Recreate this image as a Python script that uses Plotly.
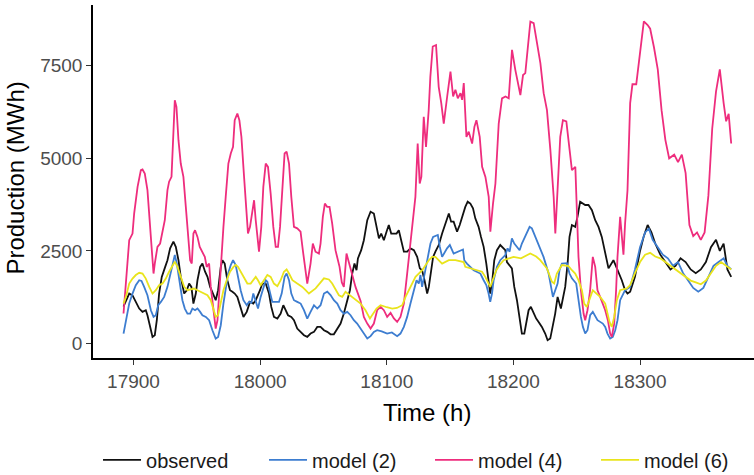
import plotly.graph_objects as go

# ---------------- data ----------------
obs_h = [17892.1, 17896.6, 17899.2, 17901.8, 17904.5, 17907.1, 17909.7, 17911, 17913.1, 17915, 17916.8, 17918.4,
         17920.2, 17922.3, 17925, 17926.8, 17928.9, 17931.5, 17933.4, 17935.5, 17937.3, 17940, 17942.1, 17943.9,
         17945.7, 17947.3, 17949.2, 17950.5, 17952.6, 17954.4, 17956.5, 17958.4, 17960.5, 17962.8, 17964.9, 17966.8,
         17968.9, 17970.2, 17972, 17974.1, 17976.2, 17978.1, 17979.9, 17982, 17984.1, 17986.8, 17989.4, 17992,
         17994.6, 17996.5, 17999.9, 18001.7, 18004.4, 18007, 18008.8, 18010.9, 18013.6, 18016.2, 18018.3, 18020.1,
         18022, 18024.6, 18026.7, 18029.3, 18032, 18034.6, 18037.2, 18039.8, 18042.5, 18045.1, 18047.7, 18050.4,
         18053, 18055.6, 18058.2, 18060.4, 18063.5, 18066.1, 18068.8, 18070.9, 18072.7, 18074.5, 18076.1, 18077.2,
         18079.8, 18081.9, 18084.6, 18087.2, 18089.8, 18091.9, 18093.8, 18095.6, 18097.7, 18099.8, 18101.6, 18103.5,
         18107.7, 18109.5, 18111.4, 18113.5, 18116.1, 18118.7, 18121.4, 18124, 18126.1, 18127.9, 18129.8, 18131.9,
         18133.2, 18134.5, 18136.6, 18138.4, 18141.1, 18143.7, 18146.3, 18149, 18150.8, 18152.8, 18155.5, 18157.6,
         18162, 18163.9, 18166, 18168.1, 18169.9, 18172.5, 18174.4, 18176.5, 18178.6, 18180.4, 18181.7, 18183.1,
         18184.9, 18187, 18189.6, 18193.6, 18194.9, 18198.8, 18200.7, 18202.8, 18204.9, 18206.7, 18208.6, 18210.1,
         18212, 18213.8, 18215.9, 18218, 18219.9, 18222.5, 18225.1, 18227, 18229.1, 18231.2, 18233, 18234.9,
         18237.5, 18240.9, 18242.8, 18244.3, 18246.2, 18248.8, 18250.6, 18252.7, 18256.7, 18259.3, 18262, 18264.6,
         18267.2, 18269.8, 18272.5, 18275.1, 18279, 18283, 18285.6, 18288.2, 18290.1, 18292.2, 18296, 18300,
         18303, 18306, 18309, 18312, 18316, 18320, 18324, 18328, 18332, 18336, 18340, 18344,
         18348, 18352, 18356, 18360, 18363, 18366, 18369, 18372]
obs_v = [1000, 1350, 1300, 1125, 945, 855, 900, 765, 405, 180, 225, 630,
         1350, 1800, 2070, 2250, 2570, 2750, 2610, 2250, 1800, 1350, 1440, 1620,
         1530, 1080, 1350, 1710, 2070, 2160, 1940, 1800, 1530, 1350, 1170, 1440,
         2070, 2250, 2160, 1710, 1440, 1400, 1350, 1260, 990, 720, 855, 1125,
         1080, 1170, 1440, 1620, 1620, 1350, 990, 720, 675, 810, 1035, 900,
         765, 720, 630, 405, 315, 225, 180, 270, 315, 450, 450, 360,
         315, 250, 250, 360, 540, 810, 1170, 1440, 1890, 2160, 1980, 2300,
         2520, 2790, 3330, 3560, 3510, 3150, 2840, 2970, 2790, 3020, 3200, 2970,
         2970, 3060, 2790, 2480, 2480, 2570, 2520, 2340, 2030, 1980, 1710, 1350,
         1530, 1890, 2340, 2480, 2660, 2970, 3240, 3510, 3290, 3290, 3020, 3200,
         3690, 3830, 3780, 3650, 3380, 3150, 2880, 2610, 2160, 1710, 1350, 1620,
         2250, 2520, 2660, 2520, 2200, 2030, 1530, 1170, 720, 270, 270, 540,
         900, 990, 810, 675, 585, 450, 270, 90, 135, 450, 810, 1260,
         945, 1530, 2160, 2880, 3200, 3150, 3420, 3830, 3740, 3740, 3600, 3330,
         3150, 2880, 2430, 2030, 2250, 1940, 1710, 1440, 1350, 1400, 1800, 2500,
         2900, 3200, 3000, 2700, 2400, 2200, 2000, 2100, 2300, 2200, 2000, 1900,
         2000, 2200, 2600, 2800, 2500, 2700, 2000, 1800]

m2_h = [17892.1, 17894, 17896.6, 17899.2, 17901.8, 17904.5, 17906.3, 17908.4, 17911, 17913.7, 17915.8, 17917.6,
        17919.5, 17921.6, 17924.2, 17926.8, 17929.4, 17931.5, 17932.6, 17934.2, 17936, 17938.6, 17940.5, 17942.6,
        17944.7, 17946.5, 17948.6, 17950.5, 17952.6, 17954.4, 17957.1, 17959.7, 17962.3, 17964.9, 17966.8, 17968.9,
        17971, 17972.8, 17974.7, 17976.8, 17978.6, 17980.7, 17982.5, 17984.6, 17986.8, 17989.4, 17991.2, 17993.1,
        17994.6, 17996.5, 17998.3, 18000.4, 18002.5, 18004.4, 18005.7, 18007.8, 18009.6, 18012.3, 18014.9, 18017,
        18019.3, 18020.9, 18022.8, 18024.6, 18026.7, 18029.3, 18032, 18034.6, 18037.2, 18039.8, 18042.5, 18045.1,
        18047.7, 18050.4, 18053, 18055.6, 18058.2, 18060.9, 18063.5, 18066.1, 18068.8, 18071.4, 18074, 18076.6,
        18079.3, 18081.9, 18084.6, 18087.2, 18089.8, 18092.4, 18096, 18100.3, 18104, 18108.2, 18110.8, 18113.5,
        18116.1, 18118.7, 18121.4, 18123.5, 18125.3, 18126.6, 18127.9, 18130.6, 18131.9, 18133.2, 18134.5, 18136.6,
        18140.3, 18141.9, 18143.7, 18147.6, 18149.8, 18152.8, 18156, 18160.2, 18161.2, 18163.3, 18168.6, 18173.9,
        18176.5, 18178.6, 18180.4, 18181.7, 18183.1, 18184.4, 18187, 18189.6, 18193.6, 18195.4, 18197, 18198.8,
        18200.7, 18202.8, 18204.9, 18206.7, 18210.7, 18212.8, 18214.6, 18217.2, 18219.1, 18221.2, 18223.8, 18227.8,
        18229.6, 18231.2, 18234.9, 18236.4, 18238.3, 18242.2, 18244.3, 18246.2, 18249.6, 18251.4, 18253.3, 18254.9,
        18256.7, 18258.5, 18260.6, 18262.7, 18266.4, 18270.6, 18272.5, 18274.3, 18276.4, 18278.5, 18280.4, 18282.2,
        18284.3, 18288.2, 18292.2, 18296, 18300, 18304, 18307, 18310, 18314, 18318, 18322, 18326,
        18330, 18334, 18338, 18342, 18346, 18350, 18354, 18358, 18362, 18366, 18369, 18372]
m2_v = [270, 630, 1080, 1350, 1575, 1710, 1690, 1530, 1305, 900, 720, 765,
        1035, 1125, 1260, 1530, 1940, 2250, 2390, 2160, 1710, 1170, 945, 810,
        810, 945, 900, 945, 855, 765, 720, 630, 360, 135, 180, 495,
        1080, 1530, 1890, 2120, 2250, 2120, 1800, 1440, 1170, 1035, 1125, 1100,
        1350, 1125, 945, 1260, 1530, 1710, 1670, 1350, 1125, 1125, 1125, 1350,
        1800, 1890, 1710, 1350, 1170, 1125, 1080, 900, 675, 855, 1035, 945,
        1035, 1350, 1400, 1310, 1170, 1080, 900, 810, 855, 765, 630, 540,
        405, 270, 135, 200, 315, 360, 330, 270, 300, 200, 270, 450,
        720, 1080, 1440, 1710, 1620, 1850, 1530, 1980, 2200, 2430, 2700, 2880,
        2930, 2610, 2340, 2570, 2660, 2430, 2480, 2540, 2250, 2160, 1980, 1890,
        1710, 1580, 1350, 1125, 1350, 1710, 2070, 2250, 2390, 2570, 2480, 2840,
        2700, 2610, 2520, 2700, 2970, 3150, 3110, 2880, 2700, 2550, 2340, 1890,
        1530, 1260, 1620, 1980, 2160, 2170, 1890, 1760, 1620, 1170, 720, 450,
        270, 360, 765, 855, 630, 540, 450, 270, 135, 180, 360, 630,
        1170, 1440, 1530, 2000, 2600, 3000, 3100, 2800, 2600, 2400, 2300, 2100,
        2200, 1900, 1700, 1500, 1400, 1500, 1800, 2100, 2200, 2300, 2100, 2000]

m4_h = [17892.1, 17894, 17896.6, 17899.2, 17900.5, 17903.2, 17905.8, 17907.1, 17908.9, 17911, 17913.1, 17915,
        17915.8, 17916.8, 17918.9, 17921, 17922.9, 17924.7, 17926.8, 17928.1, 17930, 17931.5, 17932.6, 17933.9,
        17935.5, 17937.3, 17939.4, 17941.3, 17943.1, 17944.7, 17946, 17947.3, 17948.6, 17950.5, 17952.3, 17954.4,
        17956.3, 17957.8, 17959.7, 17961, 17963.6, 17964.9, 17966.3, 17967.6, 17968.9, 17971, 17972.8, 17974.9,
        17976.8, 17978.6, 17979.9, 17982, 17983.6, 17985.2, 17987.3, 17989.1, 17990.4, 17992, 17993.8, 17995.2,
        17996.5, 17997.8, 17999.1, 18000.9, 18002.5, 18004.4, 18006.2, 18008.3, 18010.4, 18012.3, 18014.1, 18015.7,
        18017.5, 18019.3, 18020.9, 18022.8, 18024.6, 18026.7, 18029.3, 18031.9, 18033.7, 18035.8, 18037.2, 18039.8,
        18041.6, 18043.7, 18046.4, 18047.7, 18049.5, 18051.1, 18052.9, 18054.8, 18056.9, 18059.5, 18062.7, 18064.5,
        18066.1, 18068.2, 18070, 18072.7, 18075.3, 18079.3, 18081.9, 18084.6, 18087.2, 18089.8, 18092.4, 18095.1,
        18097.7, 18100.3, 18103, 18105.6, 18108.2, 18110.8, 18113.5, 18116.1, 18118.7, 18121.4, 18122.6, 18124.4,
        18126, 18127.3, 18129.2, 18131, 18133.1, 18134.4, 18136.3, 18138.9, 18141, 18143, 18145, 18147.7,
        18150.3, 18152.4, 18154.2, 18156.1, 18158.2, 18159.5, 18160.8, 18162.9, 18164.7, 18167.4, 18169.2, 18170.8,
        18173.4, 18175.3, 18177.9, 18180.5, 18181.8, 18183.9, 18185.8, 18188.4, 18191, 18193.7, 18196.3, 18198.9,
        18201.5, 18205.5, 18207.6, 18209.4, 18210.8, 18213.4, 18216, 18218.6, 18221.3, 18223.9, 18226.5, 18229.2,
        18231.8, 18233.1, 18234.9, 18237, 18239.1, 18241.8, 18244.4, 18246.2, 18248.9, 18250.2, 18251.4, 18253.3,
        18255.4, 18256.7, 18258.5, 18260.6, 18262.7, 18264.6, 18266.4, 18268.5, 18270.6, 18272.5, 18274.6, 18276.4,
        18277.7, 18279.6, 18281.1, 18282.2, 18284.3, 18285.6, 18286.9, 18288.2, 18290.1, 18292.2, 18294, 18297,
        18300, 18303, 18306, 18308, 18311, 18314, 18317, 18320, 18323, 18327, 18330, 18333,
        18336, 18339, 18342, 18345, 18348, 18351, 18354, 18357, 18360, 18363, 18366, 18368,
        18370, 18372]
m4_v = [810, 1620, 2790, 2970, 3510, 4230, 4680, 4700, 4590, 4140, 3150, 2250,
        1890, 2160, 2610, 2700, 3060, 3330, 4140, 4370, 4500, 5670, 6570, 6390,
        5490, 4860, 4500, 3690, 2790, 2250, 2160, 2970, 3060, 2880, 2610, 2480,
        2340, 2070, 2160, 1530, 720, 405, 630, 1350, 2160, 3150, 3960, 4860,
        5130, 5310, 6030, 6210, 6030, 5580, 4500, 3510, 2970, 3150, 3510, 3870,
        3330, 2790, 2480, 3150, 4230, 4860, 4770, 4050, 3150, 2610, 2610, 3150,
        4230, 5130, 5180, 4860, 3960, 3150, 3110, 3020, 2520, 1980, 1620, 2160,
        2700, 2480, 2430, 2700, 3420, 3780, 3690, 3690, 3240, 2520, 2070, 1650,
        1530, 2430, 2200, 1800, 1530, 1150, 720, 540, 405, 540, 900, 990,
        900, 720, 830, 680, 585, 720, 1080, 1890, 2790, 3690, 3960, 5400,
        4320, 4500, 6120, 5310, 6300, 7200, 8020, 8060, 6930, 6500, 5940, 6670,
        7340, 6670, 6850, 6620, 6760, 6580, 7030, 5580, 5720, 5400, 5850, 6030,
        5580, 4770, 4500, 3960, 3020, 3780, 4320, 5940, 6620, 6670, 6620, 7930,
        7390, 6710, 7250, 7300, 7840, 8690, 8650, 8110, 7570, 6760, 6300, 5220,
        3960, 2970, 4230, 5580, 6030, 6000, 5220, 4680, 4770, 3600, 2340, 1440,
        810, 630, 900, 1440, 2340, 2070, 1440, 1260, 1080, 900, 630, 270,
        180, 540, 1440, 2340, 3420, 2970, 2400, 3240, 4140, 6490, 7000, 7000,
        7900, 8700, 8600, 8500, 8000, 7400, 6300, 5500, 5000, 5100, 4900, 5100,
        4600, 3200, 2900, 3000, 2800, 3000, 4000, 5800, 6800, 7400, 6500, 6000,
        6200, 5400]

m6_h = [17892.1, 17894, 17896.6, 17899.2, 17901.8, 17904.5, 17907.1, 17909.7, 17912.4, 17915, 17917.6, 17920.2,
        17922.9, 17925.5, 17928.1, 17930.8, 17932.6, 17934.7, 17937.3, 17940, 17942.6, 17945.2, 17947.8, 17950.5,
        17953.1, 17955.7, 17958.4, 17961, 17963.1, 17964.9, 17966.8, 17968.9, 17971, 17973.6, 17976.2, 17978.9,
        17980.7, 17982.5, 17984.6, 17987.3, 17989.9, 17992.5, 17994.6, 17996.5, 17998.3, 18000.4, 18003, 18005.7,
        18008.3, 18010.9, 18013.6, 18016.2, 18018.8, 18020.9, 18022.8, 18025.5, 18029.3, 18033.3, 18035.9, 18038.5,
        18043.8, 18050.4, 18054.3, 18056.9, 18062.2, 18064.8, 18067.4, 18072.7, 18075.3, 18079.3, 18083.2, 18086.7,
        18091.9, 18095.1, 18100, 18104.3, 18108, 18112.2, 18114.8, 18117.4, 18120.1, 18122.7, 18128, 18133.2,
        18135.8, 18138.4, 18143.7, 18149, 18154.2, 18160.7, 18162, 18169.9, 18175.2, 18177.8, 18180.4, 18181.7,
        18186.5, 18189.1, 18192.3, 18200.1, 18206, 18213.3, 18218, 18221.2, 18226.5, 18230.4, 18232.2, 18234.3,
        18238.3, 18243.5, 18246.2, 18248.8, 18251.4, 18254.1, 18255.9, 18258, 18262.7, 18268.5, 18272.5, 18274.3,
        18275.9, 18277.7, 18279.6, 18281.7, 18284.3, 18289.6, 18292.2, 18296, 18300, 18304, 18308, 18312,
        18316, 18320, 18324, 18328, 18332, 18336, 18340, 18344, 18348, 18352, 18356, 18360,
        18364, 18368, 18372]
m6_v = [1080, 1260, 1620, 1755, 1850, 1910, 1890, 1755, 1530, 1350, 1440, 1575,
        1620, 1755, 1940, 2120, 2210, 2070, 1800, 1530, 1440, 1460, 1485, 1440,
        1400, 1350, 1305, 1170, 900, 720, 765, 1080, 1440, 1710, 1940, 2070,
        2120, 2070, 1940, 1755, 1620, 1620, 1730, 1800, 1710, 1575, 1710, 1850,
        1800, 1620, 1550, 1710, 1940, 2000, 1890, 1710, 1620, 1530, 1440, 1350,
        1490, 1760, 1730, 1620, 1305, 1260, 1400, 1260, 1170, 1080, 900, 675,
        945, 1035, 980, 945, 960, 1035, 1260, 1440, 1620, 1800, 1980, 2250,
        2340, 2340, 2160, 2250, 2250, 2200, 2070, 1980, 1940, 1800, 1620, 1530,
        1980, 2120, 2250, 2340, 2300, 2430, 2350, 2250, 2030, 1670, 1620, 1890,
        2120, 2090, 1980, 1890, 1710, 1440, 1080, 990, 1440, 1260, 1080, 810,
        585, 450, 720, 1170, 1440, 1490, 1580, 1900, 2200, 2400, 2450, 2350,
        2300, 2200, 2100, 2000, 1900, 1800, 1700, 1650, 1600, 1700, 1900, 2100,
        2200, 2100, 2000]

series_names = ["observed", "model (2)", "model (4)", "model (6)"]
series_colors = ["#111111", "#3D7DD0", "#EE2D7D", "#E9E41C"]
x_ticks = [17900, 18000, 18100, 18200, 18300]
y_ticks = [0, 2500, 5000, 7500]

# ---------------- figure ----------------
fig = go.Figure()
for name, hx, vy, col in zip(series_names, [obs_h, m2_h, m4_h, m6_h], [obs_v, m2_v, m4_v, m6_v], series_colors):
    fig.add_trace(go.Scatter(x=hx, y=vy, mode="lines", name=name,
                             line=dict(color=col, width=1.8)))

FONT = "Liberation Sans, Arial, Helvetica, sans-serif"
fig.update_layout(
    width=754, height=475,
    margin=dict(l=93, r=0, t=5, b=117, autoexpand=False),
    paper_bgcolor="white", plot_bgcolor="white",
    font=dict(family=FONT, color="black"),
    showlegend=True,
    legend=dict(orientation="h", xref="container", yref="container",
                x=0.130, xanchor="left", y=0.032, yanchor="middle",
                font=dict(size=20, color="#1a1a1a"), entrywidth=113, entrywidthmode="pixels",
                itemwidth=38, traceorder="normal", bgcolor="rgba(0,0,0,0)"),
)
fig.update_xaxes(range=[17868, 18390], showline=True, linecolor="black", linewidth=1.5,
                 ticks="outside", ticklen=5, tickwidth=1.2, tickcolor="#333333",
                 tickvals=x_ticks, ticktext=[str(t) for t in x_ticks], automargin=False,
                 tickfont=dict(size=19, color="#4d4d4d"), showgrid=False, zeroline=False)
fig.update_yaxes(range=[-390, 9140], showline=True, linecolor="black", linewidth=1.5,
                 ticks="outside", ticklen=5, tickwidth=1.2, tickcolor="#333333",
                 tickvals=y_ticks, ticktext=[str(t) for t in y_ticks], automargin=False,
                 tickfont=dict(size=19, color="#4d4d4d"), showgrid=False, zeroline=False)

fig.add_annotation(text="Time (h)", xref="paper", yref="paper", x=0.505, y=-0.153,
                   xanchor="center", yanchor="middle", showarrow=False,
                   font=dict(size=24, color="black", family=FONT))
fig.add_annotation(text="Production (MWh)", xref="paper", yref="paper", x=-0.1165, y=0.511,
                   xanchor="center", yanchor="middle", textangle=-90, showarrow=False,
                   font=dict(size=24, color="black", family=FONT))

fig.write_html("out.html")
